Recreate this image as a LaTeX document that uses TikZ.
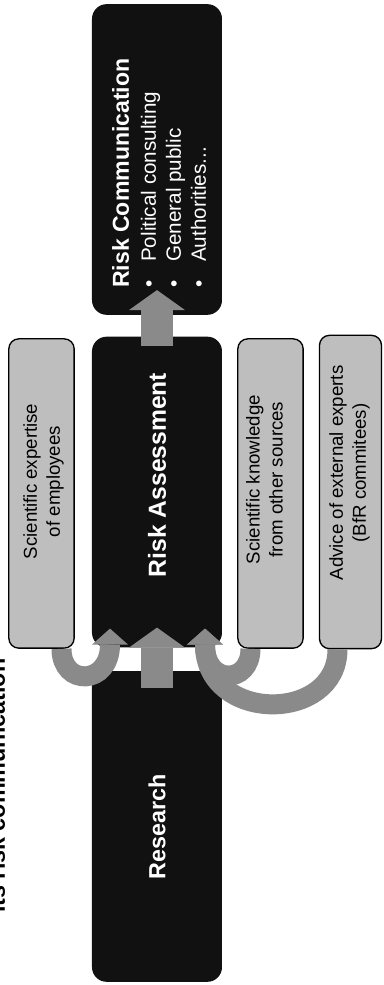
\documentclass[tikz,border=0pt]{standalone}
\usepackage{fontspec}
\setmainfont{Liberation Sans}
\usetikzlibrary{arrows.meta,calc}
\definecolor{inkdark}{HTML}{111111}
\definecolor{boxgrey}{HTML}{BEBEBE}
\definecolor{flowgrey}{HTML}{8A8A8A}
\tikzset{darkbox/.style={fill=inkdark,rounded corners=11pt,minimum width=233pt,minimum height=97.5pt,text=white,font=\bfseries\fontsize{17.5}{21}\selectfont},
  greybox/.style={draw=black,line width=1pt,fill=boxgrey,rounded corners=7.5pt,minimum width=232pt,minimum height=49pt},
  boxtext/.style={align=center,inner sep=0pt,font=\fontsize{14}{17.25}\selectfont},
  bigflow/.style={flowgrey,line width=24pt,-{Triangle[length=15pt,width=42pt,line width=0pt]}},
  loopflow/.style={flowgrey,line width=15pt,-{Triangle[length=12pt,width=27pt,line width=0pt]}}}

\begin{document}
\begin{tikzpicture}[x=0.75pt,y=0.75pt]
\useasboundingbox (-383,0) rectangle (0,985);
\clip (-383,0) rectangle (0,985);
\fill[white] (-383,0) rectangle (0,985);
\begin{scope}[rotate=90,transform shape]
% heading, cut off at the edge
\node[anchor=base west,inner sep=0pt,font=\bfseries\fontsize{17.5}{21}\selectfont] (heading) at (72,378) {its risk communication};
% main row
\node[darkbox] (research) at (158.5,226) {Research};
\node[darkbox] (assess) at (493,226) {};
\node[darkbox] (comm) at (825.5,226) {};
\node[inner sep=0pt,text=white,font=\bfseries\fontsize{18.5}{22}\selectfont] (assesslab) at ($(assess)+(17,0)$) {Risk Assessment};
\node[anchor=west,align=left,inner sep=0pt,text=white,font=\fontsize{15.5}{18.75}\selectfont] (commlab) at ($(comm.west)+(27,-2)$)
 {{\bfseries\fontsize{17.3}{20}\selectfont Risk Communication}\\[1.5pt]
  \makebox[19.5pt][l]{•}Political consulting\\
  \makebox[19.5pt][l]{•}General public\\
  \makebox[19.5pt][l]{•}Authorities...};
% flows
\draw[bigflow] ($(research.east)+(-17,0)$) -- ($(assess.west)+(20,0)$);
\draw[bigflow] ($(assess.east)+(-10,0)$) -- ($(comm.west)+(25,0)$);
\node[greybox] (expert) at (491.5,341.5) {};
\node[greybox] (knowl) at (491.5,112.5) {};
\node[greybox,minimum width=235pt,minimum height=46.5pt] (advice) at (493,32.5) {};
\draw[loopflow] ($(expert.west)+(0,-20)$) .. controls +(-38,0) and +(-57,0) .. ($(assess.west)+(19,47)$);
\draw[loopflow] ($(knowl.west)+(0,20)$) .. controls +(-36,0) and +(-57,0) .. ($(assess.west)+(19,-48)$);
\draw[loopflow] ($(advice.west)+(0,13)$) .. controls +(-74,0) and +(-95,0) .. ($(assess.west)+(19,-48)$);
% sources
\node[boxtext] (expertlab) at ($(expert)+(12,-2)$) {Scientific expertise\\of employees};
\node[boxtext] (knowllab) at ($(knowl)+(14,6)$) {Scientific knowledge\\from other sources};
\node[boxtext] (advicelab) at ($(advice)+(19,1)$) {Advice of external experts\\(BfR commitees)};
\end{scope}
\end{tikzpicture}
\end{document}
